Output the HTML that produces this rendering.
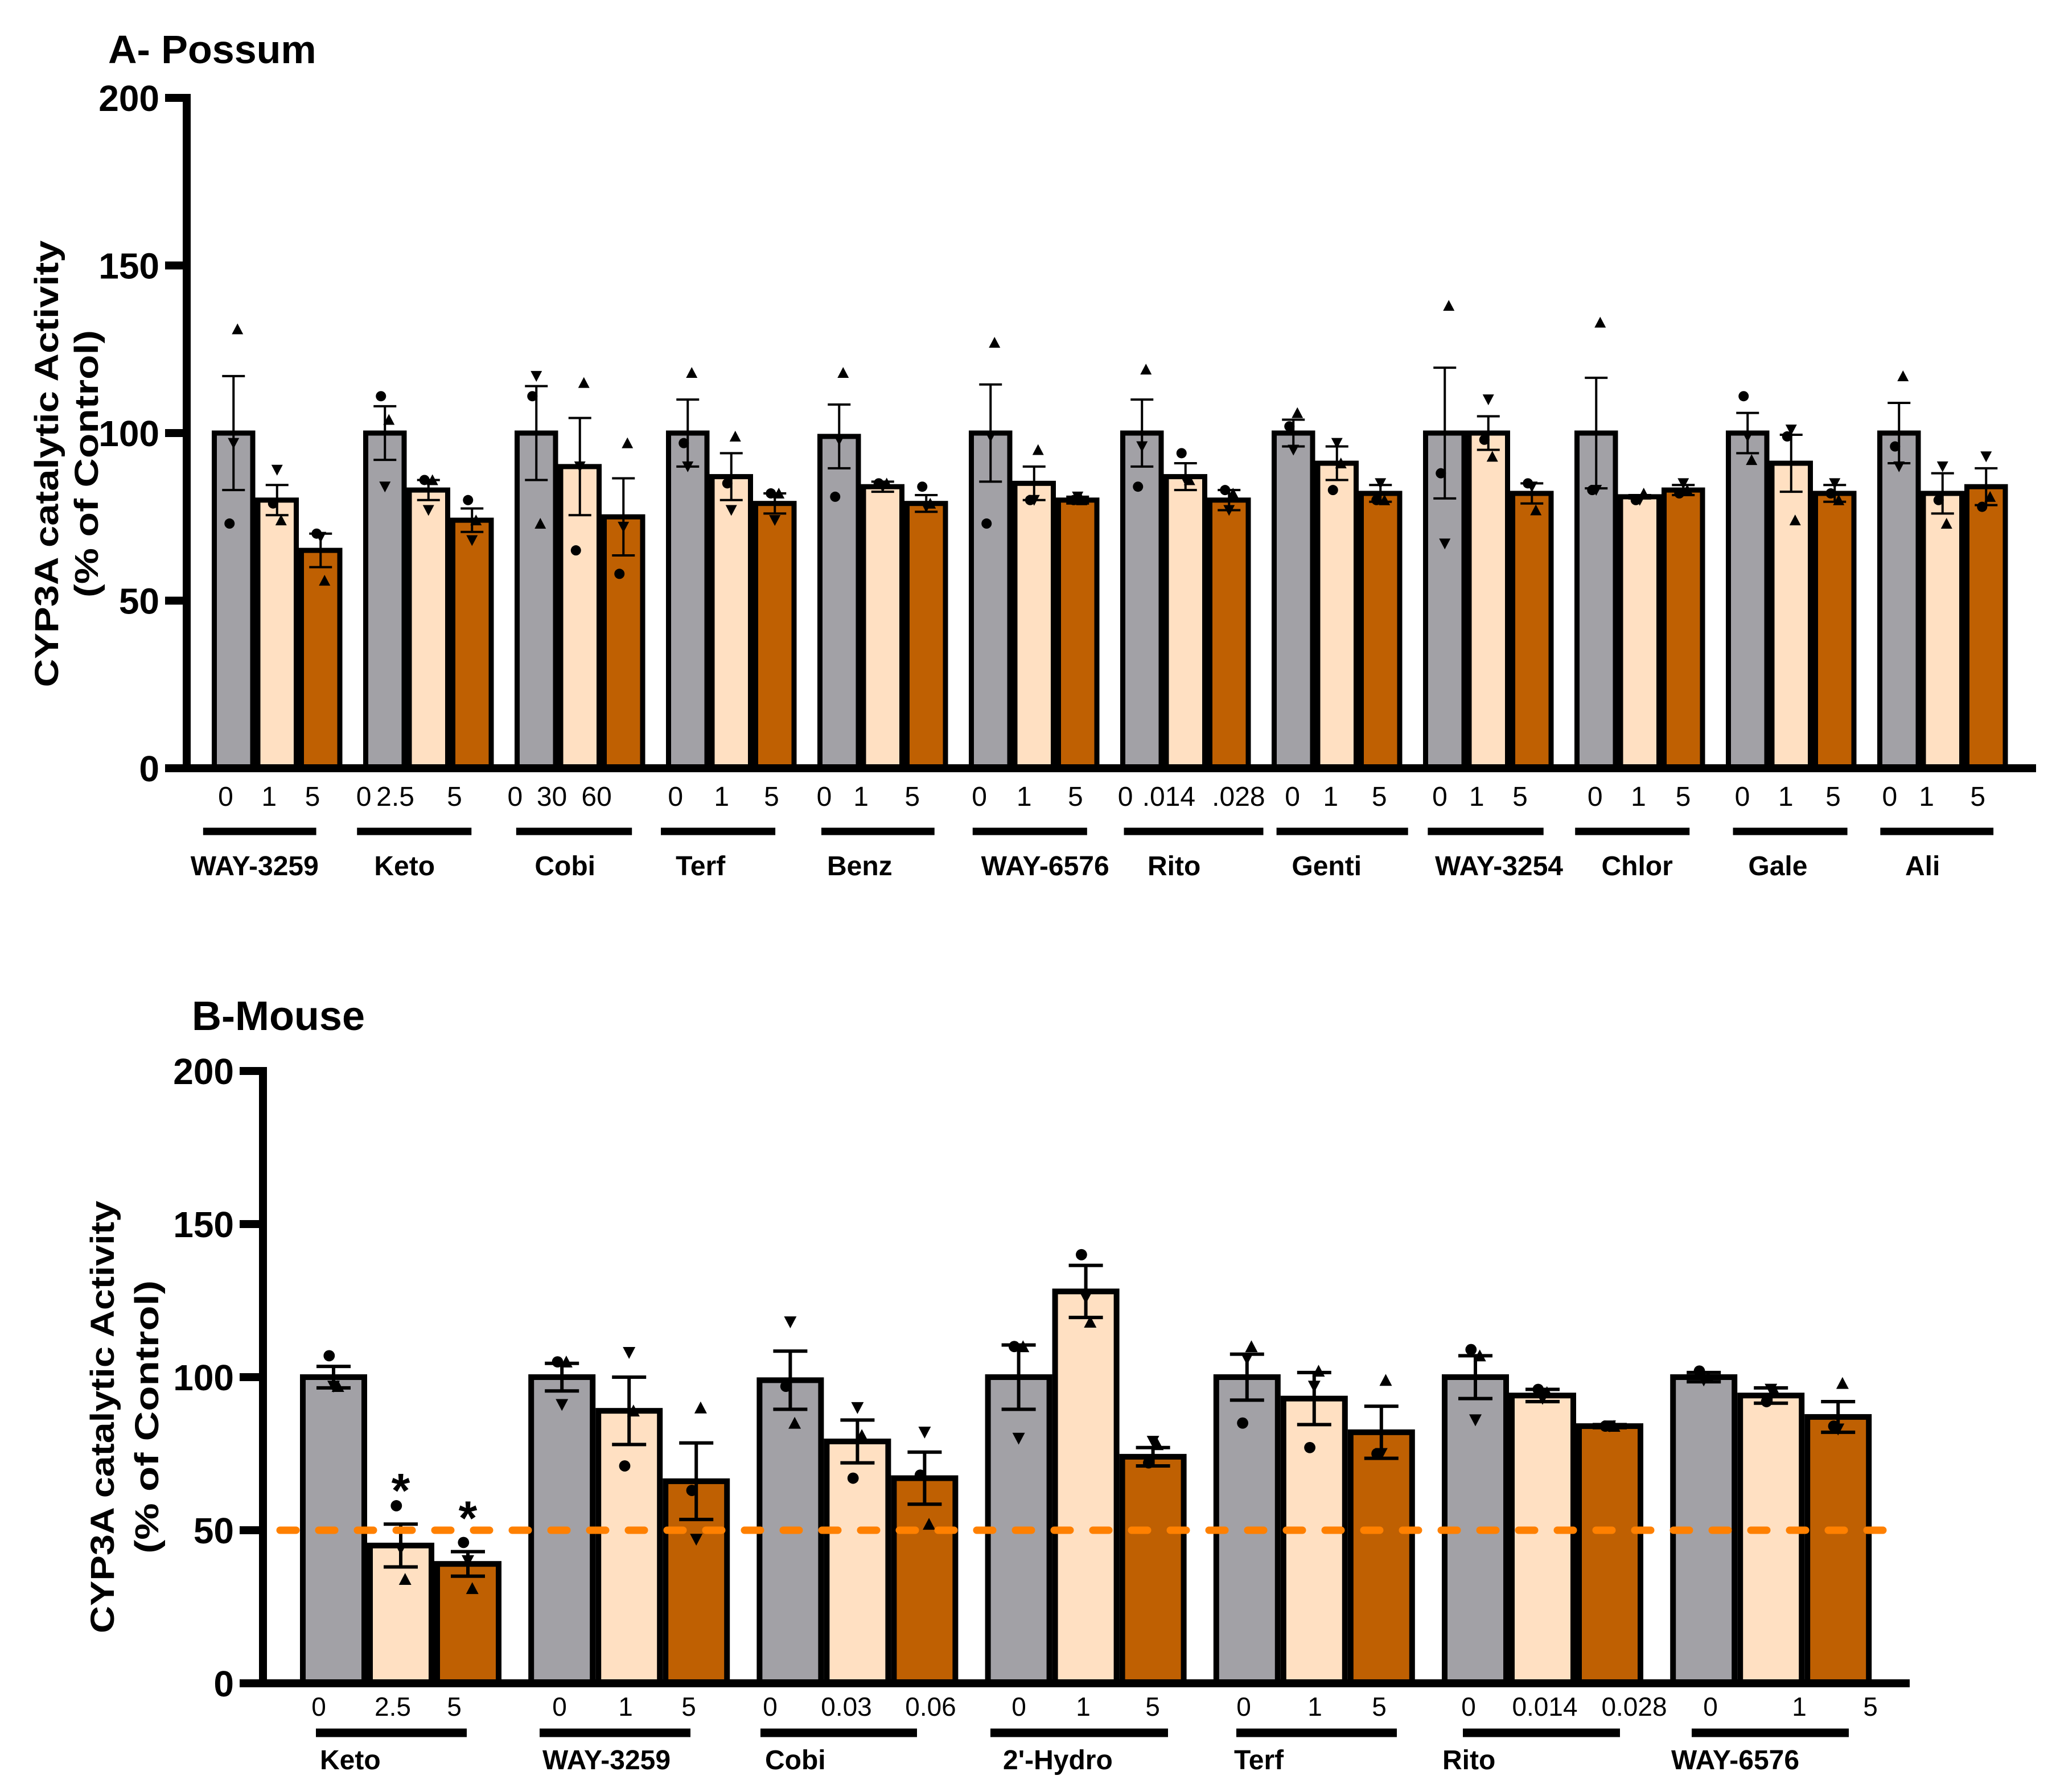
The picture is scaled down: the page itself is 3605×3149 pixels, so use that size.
<!DOCTYPE html>
<html><head><meta charset="utf-8">
<style>html,body{margin:0;padding:0;background:#fff}svg{display:block}text{font-family:"Liberation Sans",Arial,sans-serif}</style>
</head><body>
<svg id="fig" width="3605" height="3149" viewBox="0 0 3605 3149" xmlns="http://www.w3.org/2000/svg">
<rect width="3605" height="3149" fill="#fff"/>
<g id="chartA"></g>
<g id="chartB"></g>
</svg>
<script>
// ---- Panel A data (Possum) ----
const groupsA = ["WAY-3259","Keto","Cobi","Terf","Benz","WAY-6576","Rito","Genti","WAY-3254","Chlor","Gale","Ali"];
const dosesA = [["0","1","5"],["0","2.5","5"],["0","30","60"],["0","1","5"],["0","1","5"],["0","1","5"],["0",".014",".028"],["0","1","5"],["0","1","5"],["0","1","5"],["0","1","5"],["0","1","5"]];
const meansA = [[100,80,65],[100,83,74],[100,90,75],[100,87,79],[99,84,79],[100,85,80],[100,87,80],[100,91,82],[100,100,82],[100,81,83],[100,91,82],[100,82,84]];
const semA = [[17,4.5,5],[8,3,3.5],[14,14.5,11.5],[10,7,3],[9.5,1.5,2.5],[14.5,5,1],[10,4,3],[4,5,2.5],[19.5,5,3],[16.5,0.5,1.5],[6,8.5,2.5],[9,6,5.5]];
const circA = [[73,79,70],[111,86,80],[111,65,58],[97,85,82],[81,85,84],[73,80,80],[84,94,83],[102,83,80],[88,98,85],[83,80,82],[111,99,82],[96,80,78]];
const upA = [[131,74,56],[104,86,74],[73,115,97],[118,99,82],[118,85,79],[127,95,80],[119,86,82],[106,91,80],[138,93,77],[133,82,83],[92,74,80],[117,73,81]];
const downA = [[97,89,69],[84,77,68],[117,90,72],[90,77,74],[98,84,78],[99,80,81],[96,86,77],[95,97,85],[67,110,84],[83,80,85],[99,101,85],[90,90,93]];
const ticksA = [0,50,100,150,200];

// ---- Panel B data (Mouse) ----
const groupsB = ["Keto","WAY-3259","Cobi","2'-Hydro","Terf","Rito","WAY-6576"];
const dosesB = [["0","2.5","5"],["0","1","5"],["0","0.03","0.06"],["0","1","5"],["0","1","5"],["0","0.014","0.028"],["0","1","5"]];
const meansB = [[100,45,39],[100,89,66],[99,79,67],[100,128,74],[100,93,82],[100,94,84],[100,94,87]];
const semB = [[3.5,7,4],[4.5,11,12.5],[9.5,7,8.5],[10.5,8.5,3],[7.5,8.5,8.5],[7,2,0.5],[1.5,2.5,5]];
const circB = [[107,58,46],[105,71,63],[97,67,68],[110,140,72],[85,77,75],[109,96,84],[102,92,84]];
const upB = [[97,34,31],[105,89,90],[85,81,52],[110,118,78],[110,102,99],[107,95,84],[100,95,98]];
const downB = [[97,44,40],[91,108,47],[118,90,82],[80,126,79],[106,97,75],[86,93,84],[99,96,83]];
const sigB = [["","*","*"],["","",""],["","",""],["","",""],["","",""],["","",""],["","",""]];
const ticksB = [0,50,100,150,200];
const refLineB = 50;

const NS = "http://www.w3.org/2000/svg";
const fills = ["#a2a1a6","#ffe0c2","#bf6002"];
function mk(parent, tag, attrs){const e=document.createElementNS(NS,tag);for(const k in attrs)e.setAttribute(k,attrs[k]);parent.appendChild(e);return e;}

function drawPanel(g, cfg){
  const yScale = v => cfg.y0 - v*(cfg.y0-cfg.y200)/200;
  const barX = (gi,bi) => cfg.x0 + gi*cfg.gp + bi*cfg.bw;
  let t = mk(g,"text",{x:cfg.titleX,y:cfg.titleY,"font-size":cfg.titleSize,"font-weight":"bold"});
  t.textContent = cfg.title;
  
  
  let yt = mk(g,"text",{x:0,y:0,transform:`translate(${cfg.yt1x},${cfg.ytCy}) rotate(-90)`,"text-anchor":"middle","font-size":cfg.ytSize,"font-weight":"bold",textLength:cfg.yt1Len,lengthAdjust:"spacingAndGlyphs"});
  yt.textContent = "CYP3A catalytic Activity";
  
  
  let yt2 = mk(g,"text",{x:0,y:0,transform:`translate(${cfg.yt2x},${cfg.ytCy}) rotate(-90)`,"text-anchor":"middle","font-size":cfg.ytSize,"font-weight":"bold",textLength:cfg.yt2Len,lengthAdjust:"spacingAndGlyphs"});
  yt2.textContent = "(% of Control)";
  
  
  cfg.means.forEach((row,gi)=>row.forEach((m,bi)=>{
    const x = barX(gi,bi), y = yScale(m);
    const r = mk(g,"rect",{x:x+cfg.bs/2,y:y,width:cfg.bw-cfg.bs,height:cfg.y0-y,fill:fills[bi],stroke:"#000","stroke-width":cfg.bs});
    
    
  }));
  cfg.means.forEach((row,gi)=>row.forEach((m,bi)=>{
    const cx = barX(gi,bi)+cfg.bw/2, e = cfg.sem[gi][bi];
    const eg = mk(g,"g",{stroke:"#000","stroke-width":cfg.ew});
    
    
    mk(eg,"line",{x1:cx,x2:cx,y1:yScale(m+e),y2:yScale(m-e)});
    mk(eg,"line",{x1:cx-cfg.cap/2,x2:cx+cfg.cap/2,y1:yScale(m+e),y2:yScale(m+e)});
    mk(eg,"line",{x1:cx-cfg.cap/2,x2:cx+cfg.cap/2,y1:yScale(m-e),y2:yScale(m-e)});
  }));
  const s = cfg.ms;
  cfg.means.forEach((row,gi)=>row.forEach((m,bi)=>{
    const cx = barX(gi,bi)+cfg.bw/2;
    let y = yScale(cfg.circ[gi][bi]);
    const c = mk(g,"circle",{cx:cx-s*0.35,cy:y,r:s*0.45,fill:"#000"});
    
    
    y = yScale(cfg.up[gi][bi]);
    const u = mk(g,"polygon",{points:`${cx+s*0.35-s/2},${y+s*0.45} ${cx+s*0.35+s/2},${y+s*0.45} ${cx+s*0.35},${y-s*0.5}`,fill:"#000"});
    
    
    y = yScale(cfg.down[gi][bi]);
    const d = mk(g,"polygon",{points:`${cx-s/2},${y-s*0.45} ${cx+s/2},${y-s*0.45} ${cx},${y+s*0.5}`,fill:"#000"});
    
    
    if(cfg.sig && cfg.sig[gi][bi]){
      const st = mk(g,"text",{x:cx,y:yScale(m+cfg.sem[gi][bi])-cfg.sigGap,"text-anchor":"middle","font-size":84,"font-weight":"bold"});
      st.textContent = cfg.sig[gi][bi];
      
      
    }
  }));
  if(cfg.ref!==undefined){
    const rl = mk(g,"line",{x1:cfg.axX+30,x2:cfg.refEnd,y1:yScale(cfg.ref),y2:yScale(cfg.ref),stroke:"#ff8000","stroke-width":13,"stroke-dasharray":"28 40","stroke-linecap":"round"});
    
    
  }
  const ax = mk(g,"g",{stroke:"#000","stroke-width":cfg.aw});
  
  
  mk(ax,"line",{x1:cfg.axX,x2:cfg.axX,y1:yScale(200)-cfg.aw/2,y2:cfg.y0+cfg.aw/2});
  mk(ax,"line",{x1:cfg.axX,x2:cfg.axEnd,y1:cfg.y0,y2:cfg.y0});
  cfg.ticks.forEach(v=>{
    mk(ax,"line",{x1:cfg.tickX,x2:cfg.axX,y1:yScale(v),y2:yScale(v)});
    const tl = mk(g,"text",{x:cfg.tickX-10,y:yScale(v)+cfg.tickSize*0.36,"text-anchor":"end","font-size":cfg.tickSize,"font-weight":"bold"});
    tl.textContent = v;
    
    
  });
  cfg.doses.forEach((row,gi)=>row.forEach((d,bi)=>{
    const dl = mk(g,"text",{x:cfg.doseX[gi][bi],y:cfg.doseY,"text-anchor":"middle","font-size":cfg.doseSize});
    dl.textContent = d;
    
    
  }));
  cfg.groups.forEach((name,gi)=>{
    const gl = mk(g,"line",{x1:cfg.lines[gi][0],x2:cfg.lines[gi][1],y1:cfg.lineY,y2:cfg.lineY,stroke:"#000","stroke-width":cfg.lineW});
    
    
    const nl = mk(g,"text",{x:cfg.nameX[gi],y:cfg.nameY,"text-anchor":cfg.nameAnchor,"font-size":cfg.nameSize,"font-weight":"bold"});
    nl.textContent = name;
    
    
  });
}

const S = 2.311;
const doseXA = [[175,208,241],[280,304,349],[395,423,457],[517,552,590],[630,658,697],[748,782,821],[859,892,945],[986,1015,1052],[1098,1126,1159],[1216,1249,1283],[1328,1361,1397],[1440,1468,1507]].map(r=>r.map(v=>v*S-8));
const linesA = [[157,243],[274,361],[395,483],[505,592],[627,713],[742,829],[857,963],[973,1073],[1088,1176],[1200,1287],[1320,1407],[1432,1518]].map(r=>r.map(v=>v*S-6));
const nameXA = [197,311,433,536,657,798,896,1012,1143,1248,1355,1465].map(v=>v*S-8);

drawPanel(document.getElementById("chartA"),{
  title:"A- Possum",titleX:190,titleY:111,titleSize:70,
  yt1x:102,yt2x:172,ytCy:815,ytSize:58,yt1Len:785,yt2Len:470,
  y0:1350,y200:172,axX:328,axEnd:3577,tickX:290,aw:14,tickSize:64,ticks:ticksA,
  x0:372,gp:266,bw:76.5,bs:9,ew:4,cap:40,ms:20,
  groups:groupsA,doses:dosesA,means:meansA,sem:semA,circ:circA,up:upA,down:downA,
  doseX:doseXA,doseY:1416,doseSize:48,lines:linesA,lineY:1461,lineW:13,
  nameX:nameXA,nameAnchor:"middle",nameY:1538,nameSize:48
});

drawPanel(document.getElementById("chartB"),{
  title:"B-Mouse",titleX:337,titleY:1810,titleSize:72,
  yt1x:200,yt2x:278,ytCy:2490,ytSize:58,yt1Len:760,yt2Len:480,
  y0:2958,y200:1882,axX:462,axEnd:3355,tickX:421,aw:14,tickSize:64,ticks:ticksB,
  x0:527,gp:401.2,bw:118,bs:10,ew:6,cap:60,ms:22,
  groups:groupsB,doses:dosesB,means:meansB,sem:semB,circ:circB,up:upB,down:downB,sig:sigB,sigGap:30,
  ref:refLineB,refEnd:3336,
  doseX:[[560,690,798],[983,1099,1210],[1353,1487,1635],[1790,1903,2025],[2185,2310,2423],[2580,2714,2871],[3005,3161,3286]],
  doseY:3015,doseSize:46,
  lines:[[555,820],[948,1213],[1336,1611],[1740,2052],[2172,2454],[2570,2846],[2972,3248]],lineY:3045,lineW:15,
  nameX:[562,953,1344,1762,2168,2534,2936],nameAnchor:"start",nameY:3109,nameSize:48
});
</script>
</body></html>
